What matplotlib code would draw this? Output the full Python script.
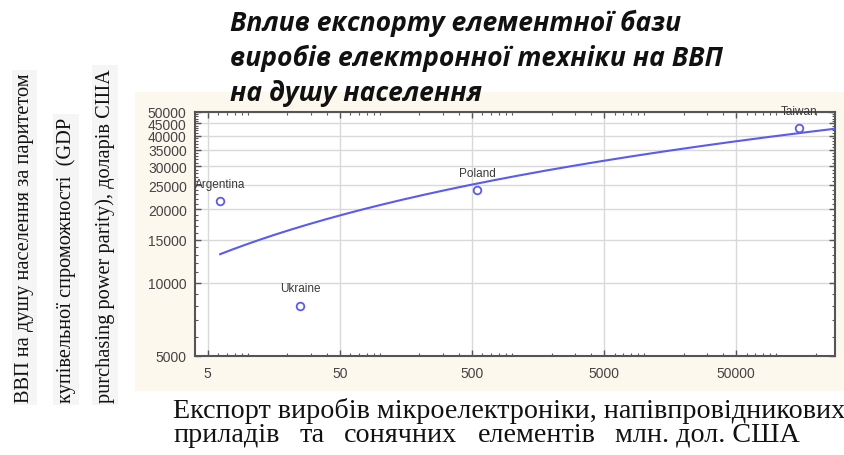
import numpy as np
import matplotlib
matplotlib.use("Agg")
import matplotlib.pyplot as plt
from matplotlib.patches import Rectangle
from matplotlib.ticker import NullFormatter, FixedLocator

# ---- data ----
countries = ["Argentina", "Ukraine", "Poland", "Taiwan"]
export_musd = [6.2, 25, 550, 150000]
gdp_ppp = [21600, 8040, 23900, 42900]

x_ticks = [5, 50, 500, 5000, 50000]
y_ticks = [5000, 10000, 15000, 20000, 25000, 30000, 35000, 40000, 45000, 50000]

title_lines = ["Вплив експорту елементної бази",
               "виробів електронної техніки на ВВП",
               "на душу населення"]
ylabel_cols = ["ВВП на душу населення за паритетом",
               "купівельної спроможності  (GDP",
               "purchasing power parity), доларів США"]
xlabel_line1 = "Експорт виробів мікроелектроніки, напівпровідникових"
xlabel_line2_words = ["приладів", "та", "сонячних", "елементів", "млн. дол. США"]

W, H = 845, 456
fig = plt.figure(figsize=(W / 100, H / 100), dpi=100)
fig.patch.set_facecolor("white")

def fx(px):
    return px / W

def fy(py):
    return 1 - py / H

# cream panel behind chart
fig.add_artist(Rectangle((fx(135), fy(392)), fx(845) - fx(135), fy(93) - fy(392),
                         transform=fig.transFigure, facecolor="#fcf8ee",
                         edgecolor="none", zorder=-10))

ax = fig.add_axes([fx(195), fy(357), fx(835) - fx(195), fy(113) - fy(357)])
ax.set_facecolor("white")
ax.set_xscale("log")
ax.set_yscale("log")
ax.set_xlim(4.0, 2.8e5)
ax.set_ylim(5000, 50000)

line_col = "#5b5bef"
xs = np.array(export_musd, dtype=float)
ys = np.array(gdp_ppp, dtype=float)
b, a = np.polyfit(np.log10(xs), ys, 1)
xfit = np.geomspace(xs.min(), ax.get_xlim()[1], 300)
ax.plot(xfit, a + b * np.log10(xfit), color=line_col, lw=1.5, zorder=3)
ax.plot(xs, ys, linestyle="none", marker="o", markersize=5.5, markerfacecolor="none",
        markeredgecolor=line_col, markeredgewidth=1.3, zorder=4)

for name, xv, yv in zip(countries, xs, ys):
    ax.annotate(name, (xv, yv), xytext=(0, 12.5), textcoords="offset points",
                ha="center", va="center", fontsize=8.5, color="#3a3a3a",
                family="Liberation Sans", annotation_clip=False, zorder=5)

# ticks
ax.xaxis.set_major_locator(FixedLocator(x_ticks))
ax.set_xticklabels([str(v) for v in x_ticks])
xminor = [m * 10 ** k for k in range(0, 6) for m in range(1, 10)
          if m * 10 ** k not in x_ticks and 4 <= m * 10 ** k <= 2.8e5]
ax.xaxis.set_minor_locator(FixedLocator(xminor))
ax.xaxis.set_minor_formatter(NullFormatter())
ax.yaxis.set_major_locator(FixedLocator(y_ticks))
ax.set_yticklabels([str(v) for v in y_ticks])
ax.yaxis.set_minor_locator(FixedLocator([v for v in range(5000, 50001, 1000) if v not in y_ticks]))
ax.yaxis.set_minor_formatter(NullFormatter())

ax.tick_params(which="both", direction="in", top=True, right=True, colors="#555555")
ax.tick_params(which="major", length=4, width=1)
ax.tick_params(which="minor", length=2, width=0.8)
ax.tick_params(axis="both", which="major", labelsize=10, labelcolor="#444444")
ax.tick_params(axis="y", pad=6)
ax.tick_params(axis="x", pad=7)
for lab in ax.get_xticklabels() + ax.get_yticklabels():
    lab.set_family("Liberation Sans")

ax.grid(True, which="major", color="#d9d9d9", lw=1)
ax.set_axisbelow(True)
for sp in ax.spines.values():
    sp.set_color("#555555")
    sp.set_linewidth(1.5)

renderer = fig.canvas.get_renderer()

def fit_width(t, target):
    w = t.get_window_extent(renderer).width
    t.set_fontsize(t.get_fontsize() * target / w)

# title
tfam = ["Open Sans", "DejaVu Sans"]
t2 = fig.text(fx(230), fy(66), title_lines[1], fontsize=18, fontweight="bold",
              fontstyle="italic", family=tfam, ha="left", va="baseline", color="#111111")
fit_width(t2, 722 - 230)
tsize = t2.get_fontsize()
for txt, base in zip([title_lines[0], title_lines[2]], [31, 101]):
    fig.text(fx(230), fy(base), txt, fontsize=tsize, fontweight="bold",
             fontstyle="italic", family=tfam, ha="left", va="baseline", color="#111111")

# x label
sfam = ["Liberation Serif", "DejaVu Serif"]
xl1 = fig.text(fx(173), fy(418), xlabel_line1, fontsize=17, family=sfam,
               ha="left", va="baseline", color="#111111")
fit_width(xl1, 843 - 173)
xsize = xl1.get_fontsize()
word_texts = [fig.text(0, fy(442), w, fontsize=xsize, family=sfam, ha="left",
                       va="baseline", color="#111111") for w in xlabel_line2_words]
widths = [t.get_window_extent(renderer).width for t in word_texts]
left, right = 173, 800
gap = (right - left - sum(widths)) / (len(widths) - 1)
pos = left
for t, w in zip(word_texts, widths):
    t.set_x(fx(pos))
    pos += w + gap

# y label columns
yl = []
for txt, bx in zip(ylabel_cols, [29, 71, 110]):
    t = fig.text(fx(bx), fy(403), txt, rotation=90, rotation_mode="anchor",
                 fontsize=14, family=sfam, ha="left", va="baseline", color="#111111",
                 bbox=dict(facecolor="#f5f5f5", edgecolor="none", pad=2))
    yl.append(t)
ext = yl[2].get_window_extent(renderer).height
ysz = yl[2].get_fontsize() * (403 - 68) / ext
for t in yl:
    t.set_fontsize(ysz)

fig.savefig("out.png", dpi=100, facecolor="white")
